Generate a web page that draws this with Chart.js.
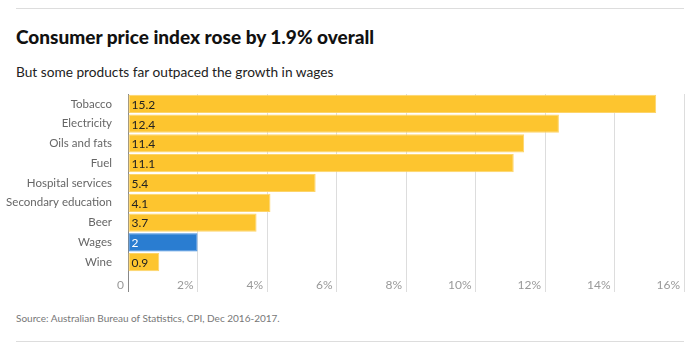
<!DOCTYPE html>
<html>
<head>
<meta charset="utf-8">
<script src="https://cdn.jsdelivr.net/npm/chart.js@4"></script>
<style>
  body { margin: 0; background: #fff; font-family: Lato, sans-serif; }
  #wrap { position: relative; width: 700px; height: 353px; }
  .rule { position: absolute; left: 16px; width: 668px; height: 1px; background: #ddd; }
  #title { position: absolute; left: 16px; top: 25px; font-size: 19px; font-weight: 900; color: #111; white-space: nowrap; }
  #subtitle { position: absolute; left: 16px; top: 63px; font-size: 13.7px; color: #222; white-space: nowrap; }
  #source { position: absolute; left: 16px; top: 312px; font-size: 10px; color: #777; white-space: nowrap; }
  #box { position: absolute; left: 0; top: 88px; width: 700px; height: 210px; }
</style>
</head>
<body>
<div id="wrap">
  <div class="rule" style="top:8px"></div>
  <div id="title">Consumer price index rose by 1.9% overall</div>
  <div id="subtitle">But some products far outpaced the growth in wages</div>
  <div id="box"><canvas id="chart"></canvas></div>
  <div id="source">Source: Australian Bureau of Statistics, CPI, Dec 2016-2017.</div>
  <div class="rule" style="top:341px"></div>
</div>
<script>
const categories = ["Tobacco", "Electricity", "Oils and fats", "Fuel", "Hospital services", "Secondary education", "Beer", "Wages", "Wine"];
const values = [15.2, 12.4, 11.4, 11.1, 5.4, 4.1, 3.7, 2, 0.9];
const xTicks = [0, 2, 4, 6, 8, 10, 12, 14, 16];

const yellow = "#fdc52f";
const blue = "#2a7dd1";

// Zahl am Balkenanfang
const valueLabels = {
    id: "valueLabels",
    afterDatasetsDraw(chart) {
        const ctx = chart.ctx;
        const meta = chart.getDatasetMeta(0);
        ctx.save();
        ctx.font = "12px Lato, sans-serif";
        ctx.textBaseline = "middle";
        ctx.textAlign = "left";
        meta.data.forEach((bar, i) => {
            ctx.fillStyle = categories[i] === "Wages" ? "#fff" : "#222";
            ctx.fillText(String(values[i]), bar.base + 3, bar.y + 1);
        });
        ctx.restore();
    }
};

new Chart(document.getElementById("chart"), {
    type: "bar",
    data: {
        labels: categories,
        datasets: [{
            data: values,
            backgroundColor: categories.map(c => c === "Wages" ? blue : yellow),
            borderColor: categories.map(c => c === "Wages" ? "#3a8ae0" : "#fdd46a"),
            borderWidth: 1,
            borderSkipped: false,
            categoryPercentage: 1,
            barPercentage: 0.92
        }]
    },
    options: {
        indexAxis: "y",
        responsive: true,
        maintainAspectRatio: false,
        animation: false,
        layout: { padding: { top: 6, right: 16, left: 0, bottom: 0 } },
        plugins: { legend: { display: false }, tooltip: { enabled: false } },
        scales: {
            x: {
                min: 0,
                max: 16,
                afterBuildTicks: s => { s.ticks = xTicks.map(v => ({ value: v })); },
                afterFit: s => { s.height = 26; s.paddingLeft = 0; s.paddingRight = 0; },
                border: { display: false },
                grid: {
                    color: c => c.tick && c.tick.value === 0 ? "#888" : "#ddd",
                    lineWidth: 1,
                    tickLength: 20
                },
                ticks: {
                    align: "end",
                    labelOffset: -4,
                    padding: -14,
                    color: "#999",
                    font: { family: "Lato", size: 12 },
                    callback: v => v === 0 ? "0" : v + "%"
                }
            },
            y: {
                afterFit: s => { s.width = 128; s.paddingTop = 0; s.paddingBottom = 0; },
                border: { display: false },
                grid: { display: false },
                ticks: {
                    padding: 8,
                    color: "#666",
                    font: { family: "Lato", size: 11.5 }
                }
            }
        }
    },
    plugins: [valueLabels]
});
</script>
</body>
</html>
